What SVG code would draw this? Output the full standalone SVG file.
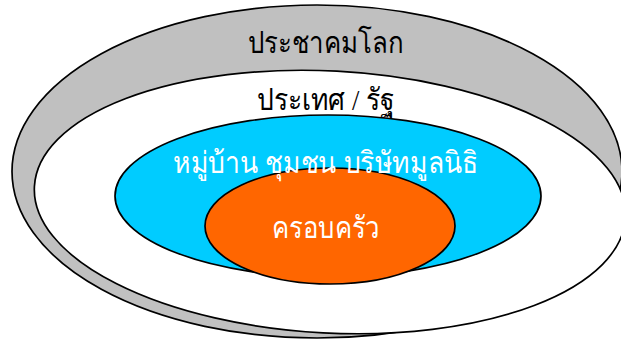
<svg xmlns="http://www.w3.org/2000/svg" width="621" height="340" viewBox="0 0 621 340">
<style>
.e{stroke:#000;stroke-width:1.7}
.t{font-family:"Liberation Serif","DejaVu Serif",serif;text-anchor:middle;font-size:30px}
</style>
<rect width="621" height="340" fill="#fff"/>
<g id="world"><ellipse class="e" cx="317" cy="171.5" rx="305" ry="166.5" fill="#c0c0c0"/></g>
<g id="country"><ellipse class="e" cx="330" cy="202" rx="296" ry="131" fill="#fff" transform="rotate(3 330 202)"/></g>
<g id="community"><ellipse class="e" cx="328" cy="196" rx="213" ry="81" fill="#00ccff"/></g>
<g id="family"><ellipse class="e" cx="330" cy="226" rx="125" ry="58" fill="#ff6600"/></g>
<g id="labels">
<text class="t" x="325.5" y="53" fill="#000" textLength="155" lengthAdjust="spacingAndGlyphs">ประชาคมโลก</text>
<text class="t" x="326" y="110" fill="#000" textLength="138" lengthAdjust="spacingAndGlyphs">ประเทศ / รัฐ</text>
<text class="t" x="325.5" y="173" fill="#fff" textLength="305" lengthAdjust="spacingAndGlyphs">หมู่บ้าน ชุมชน บริษัทมูลนิธิ</text>
<text class="t" x="326" y="238" fill="#fff" textLength="108" lengthAdjust="spacingAndGlyphs">ครอบครัว</text>
</g>
<g id="connectors"/>
</svg>
